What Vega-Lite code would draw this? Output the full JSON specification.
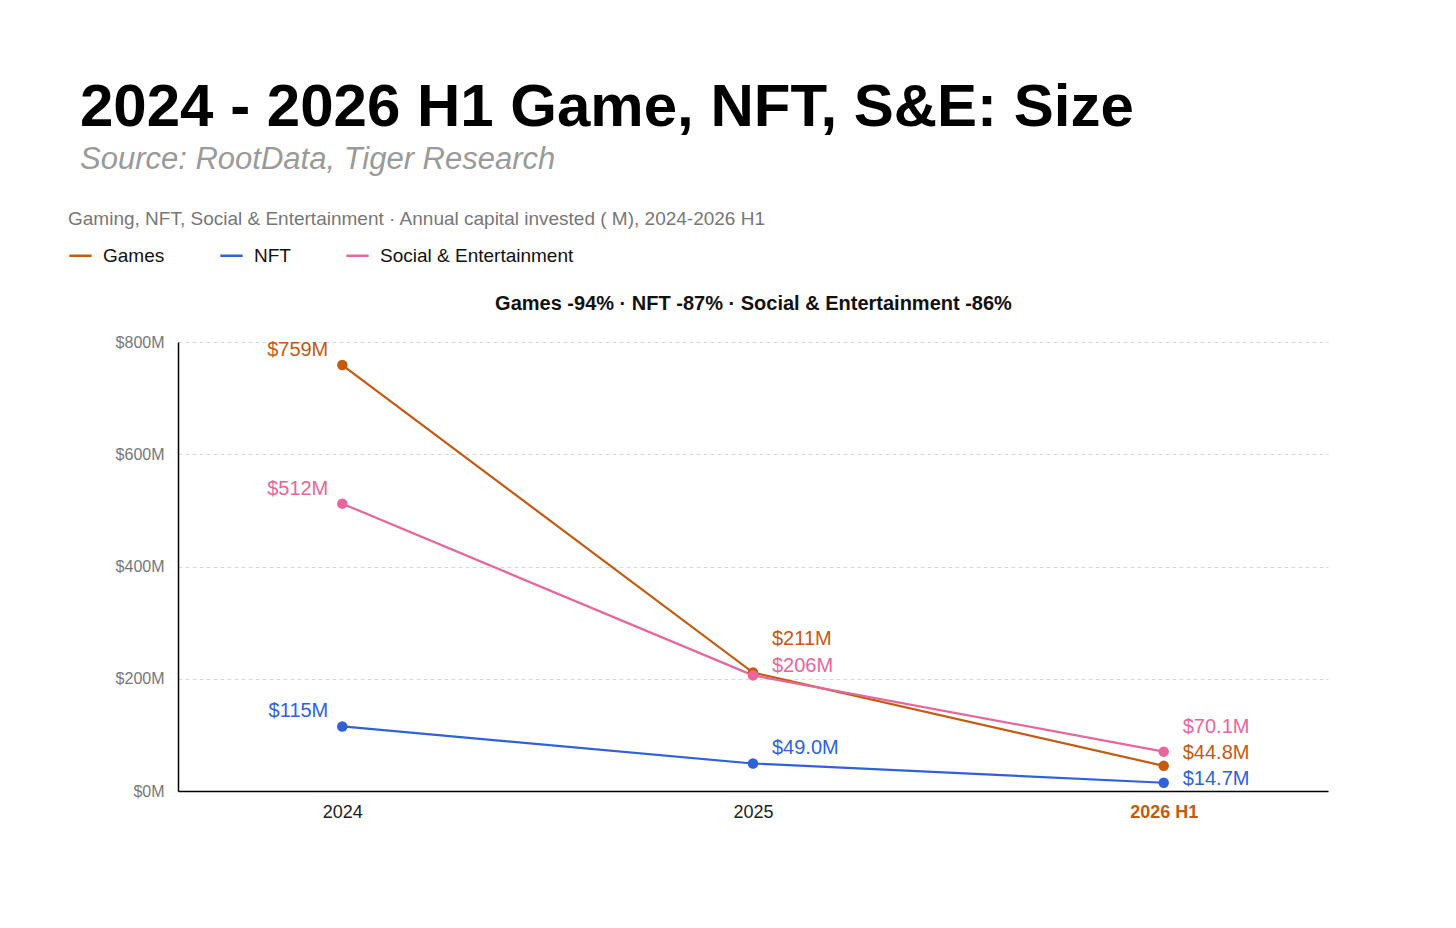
{
  "$schema": "https://vega.github.io/schema/vega-lite/v6.json",
  "width": 1150,
  "height": 449,
  "autosize": {"type": "none"},
  "padding": {"left": 178, "top": 342, "right": 128, "bottom": 137},
  "background": "#ffffff",
  "config": {"font": "Liberation Sans", "view": {"stroke": null}},
  "title": {
    "text": "2024 - 2026 H1 Game, NFT, S&E: Size",
    "subtitle": "Source: RootData, Tiger Research",
    "anchor": "start",
    "frame": "bounds",
    "fontSize": 60,
    "fontWeight": "bold",
    "color": "#000000",
    "subtitleFontSize": 31,
    "subtitleFontStyle": "italic",
    "subtitleColor": "#9a9a9a",
    "subtitlePadding": 6,
    "offset": 34,
    "dx": 12
  },
  "data": {
    "values": [
      {"period": "2024", "series": "Games", "value": 759, "label": "$759M"},
      {"period": "2025", "series": "Games", "value": 211, "label": "$211M"},
      {"period": "2026 H1", "series": "Games", "value": 44.8, "label": "$44.8M"},
      {"period": "2024", "series": "NFT", "value": 115, "label": "$115M"},
      {"period": "2025", "series": "NFT", "value": 49.0, "label": "$49.0M"},
      {"period": "2026 H1", "series": "NFT", "value": 14.7, "label": "$14.7M"},
      {"period": "2024", "series": "Social & Entertainment", "value": 512, "label": "$512M"},
      {"period": "2025", "series": "Social & Entertainment", "value": 206, "label": "$206M"},
      {"period": "2026 H1", "series": "Social & Entertainment", "value": 70.1, "label": "$70.1M"}
    ]
  },
  "encoding": {
    "y": {"field": "value", "type": "quantitative", "scale": {"domain": [0, 800]},
      "axis": {"title": null, "values": [0, 200, 400, 600, 800], "labelExpr": "'$' + datum.value + 'M'",
        "labelFontSize": 16, "labelColor": "#777777", "labelPadding": 14, "ticks": false,
        "domainColor": "#000000", "domainWidth": 1.5, "gridDash": [4, 3], "gridColor": "#d8d8d8"}},
    "color": {"field": "series", "type": "nominal",
      "scale": {"domain": ["Games", "NFT", "Social & Entertainment"], "range": ["#c55a11", "#2f62d8", "#e8669b"]},
      "legend": {"orient": "none", "legendX": -110, "legendY": -132, "direction": "horizontal",
        "title": "Gaming, NFT, Social & Entertainment · Annual capital invested ( M), 2024-2026 H1",
        "titleFontSize": 19, "titleFontWeight": "normal", "titleColor": "#777777", "titlePadding": 14,
        "titleLimit": 1000, "labelLimit": 400,
        "symbolType": "stroke", "symbolStrokeWidth": 2.5, "symbolSize": 500,
        "labelFontSize": 19, "labelColor": "#111111", "columnPadding": 50, "labelOffset": 10}}
  },
  "layer": [
    {"layer": [
      {"mark": {"type": "line", "strokeWidth": 2.2}},
      {"mark": {"type": "circle", "size": 110, "opacity": 1}},
      {"transform": [{"filter": "datum.period === '2024'"}],
        "mark": {"type": "text", "align": "right", "dx": -14, "dy": -15, "fontSize": 20}, "encoding": {"text": {"field": "label"}}},
      {"transform": [{"filter": "datum.period === '2025' && datum.series === 'Games'"}],
        "mark": {"type": "text", "align": "left", "dx": 19, "dy": -34, "fontSize": 20}, "encoding": {"text": {"field": "label"}}},
      {"transform": [{"filter": "datum.period === '2025' && datum.series === 'Social & Entertainment'"}],
        "mark": {"type": "text", "align": "left", "dx": 19, "dy": -9, "fontSize": 20}, "encoding": {"text": {"field": "label"}}},
      {"transform": [{"filter": "datum.period === '2025' && datum.series === 'NFT'"}],
        "mark": {"type": "text", "align": "left", "dx": 19, "dy": -15, "fontSize": 20}, "encoding": {"text": {"field": "label"}}},
      {"transform": [{"filter": "datum.period === '2026 H1' && datum.series === 'Social & Entertainment'"}],
        "mark": {"type": "text", "align": "left", "dx": 19, "dy": -25, "fontSize": 20}, "encoding": {"text": {"field": "label"}}},
      {"transform": [{"filter": "datum.period === '2026 H1' && datum.series === 'Games'"}],
        "mark": {"type": "text", "align": "left", "dx": 19, "dy": -13, "fontSize": 20}, "encoding": {"text": {"field": "label"}}},
      {"transform": [{"filter": "datum.period === '2026 H1' && datum.series === 'NFT'"}],
        "mark": {"type": "text", "align": "left", "dx": 19, "dy": -4, "fontSize": 20}, "encoding": {"text": {"field": "label"}}}
    ],
    "encoding": {
      "x": {"field": "period", "type": "ordinal", "sort": ["2024", "2025", "2026 H1"],
        "scale": {"type": "point", "padding": 0.4},
        "axis": {"title": null, "labelAngle": 0, "labelFontSize": 18, "labelPadding": 12, "ticks": false,
          "domainColor": "#000000", "domainWidth": 1.5,
          "labelColor": {"condition": {"test": "datum.value === '2026 H1'", "value": "#c55a11"}, "value": "#222222"},
          "labelFontWeight": {"condition": {"test": "datum.value === '2026 H1'", "value": "bold"}, "value": "normal"}}}
    }},
    {"mark": {"type": "point", "opacity": 0},
      "encoding": {"x": {"field": "period", "type": "ordinal", "sort": ["2024", "2025", "2026 H1"],
        "scale": {"type": "point", "padding": 0.4},
        "axis": {"orient": "top", "title": "Games -94% · NFT -87% · Social & Entertainment -86%",
          "titleFontSize": 20, "titleFontWeight": "bold", "titleColor": "#111111", "titlePadding": 29,
          "labels": false, "ticks": false, "domain": false, "grid": false}}}}
  ],
  "resolve": {"axis": {"x": "independent"}}
}
